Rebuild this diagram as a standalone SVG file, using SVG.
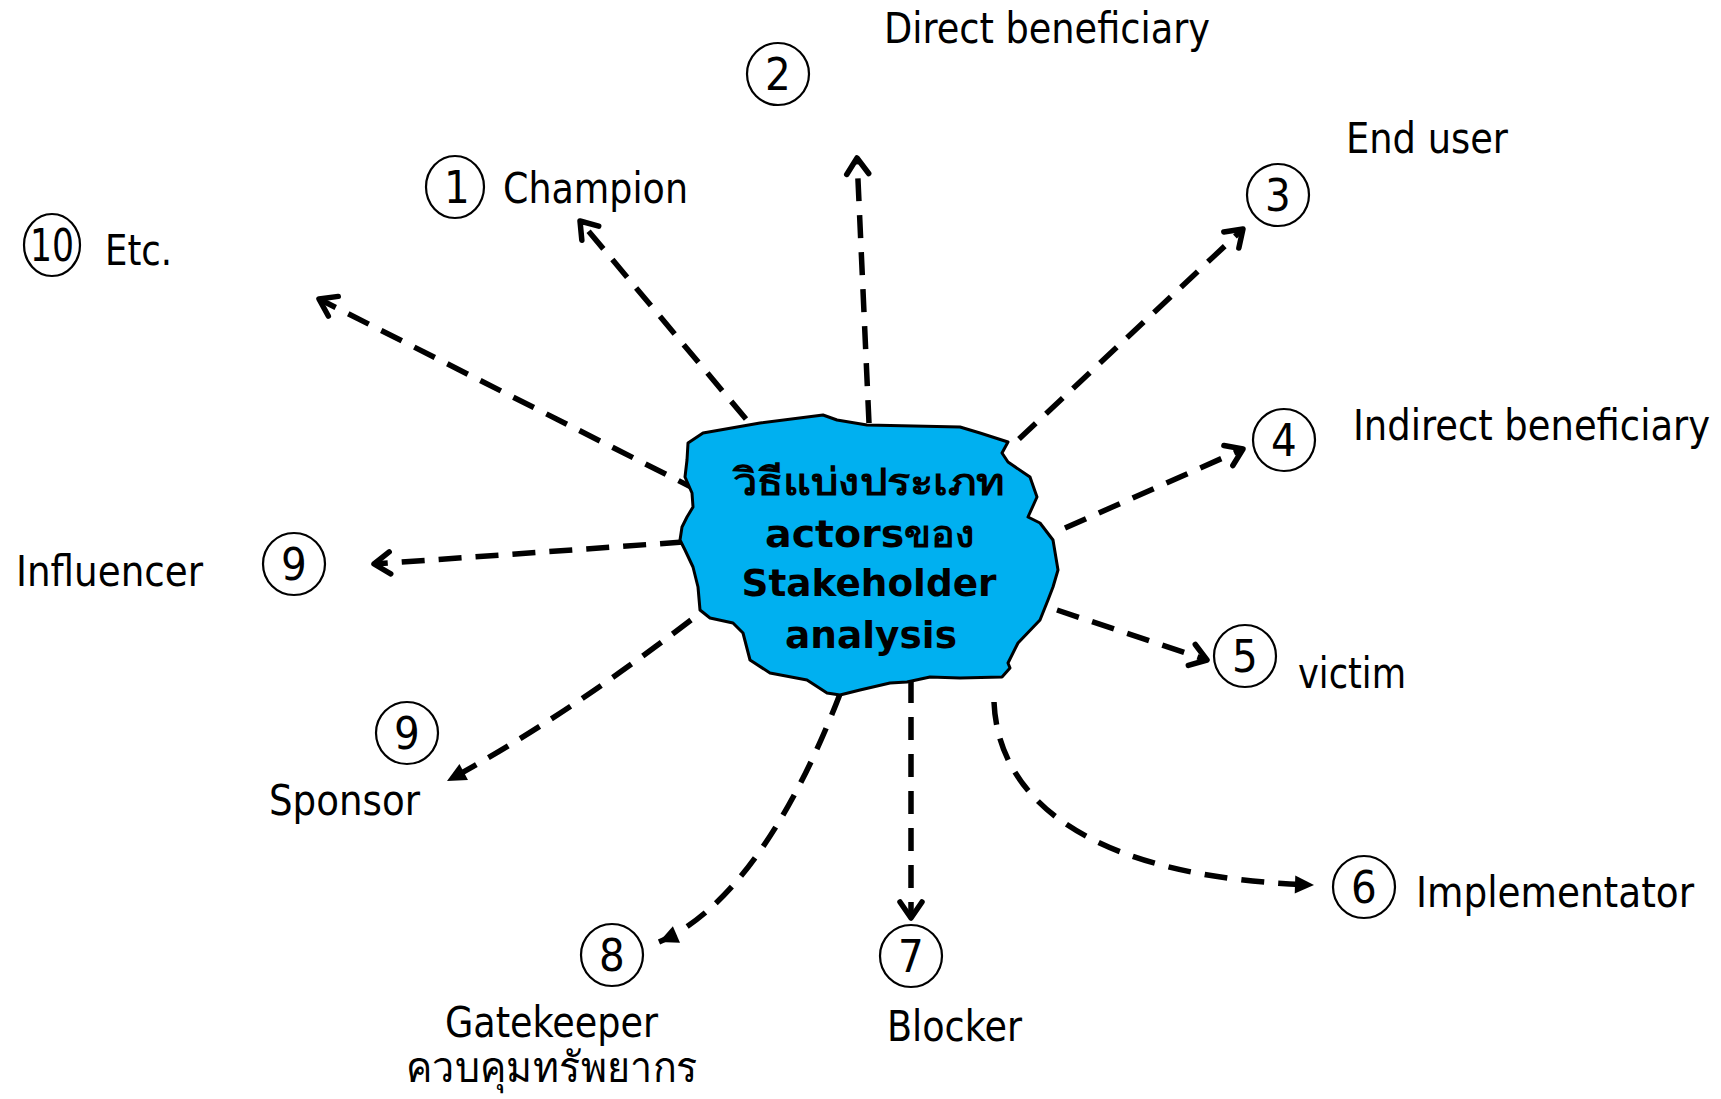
<svg xmlns="http://www.w3.org/2000/svg" width="1721" height="1099" viewBox="0 0 1721 1099">
<style>
.lbl{font-family:"DejaVu Sans","Liberation Sans",sans-serif;font-size:42px;font-stretch:condensed;fill:#000}
.num{font-family:"DejaVu Sans","Liberation Sans",sans-serif;font-size:45px;font-stretch:condensed;fill:#000;text-anchor:middle}
.ctr{font-family:"DejaVu Sans","Liberation Sans",sans-serif;font-size:38px;font-weight:bold;fill:#000;text-anchor:middle}
.circ{fill:none;stroke:#000;stroke-width:2.2}
.con{fill:none;stroke:#000;stroke-width:5.5;stroke-dasharray:23 14}
</style>
<defs>
<marker id="open" markerUnits="userSpaceOnUse" viewBox="-22 -15 30 30" markerWidth="30" markerHeight="30" refX="0" refY="0" orient="auto" overflow="visible">
<path d="M-16,-11 L0,0 L-16,11" fill="none" stroke="#000" stroke-width="5.5" stroke-linecap="round" stroke-linejoin="round"/>
</marker>
<marker id="fill" markerUnits="userSpaceOnUse" viewBox="-22 -15 30 30" markerWidth="30" markerHeight="30" refX="0" refY="0" orient="auto" overflow="visible">
<path d="M-19,-9 L0,0 L-19,9 Z" fill="#000" stroke="none"/>
</marker>
</defs>

<g id="connectors">
<path class="con" d="M746,419 L580,221" marker-end="url(#open)"/>
<path class="con" d="M869,423 L857,158" marker-end="url(#open)"/>
<path class="con" d="M1019,439 L1243,229" marker-end="url(#open)"/>
<path class="con" d="M1065,528 L1243,449" marker-end="url(#open)"/>
<path class="con" d="M1057,610 L1207,660" marker-end="url(#open)"/>
<path class="con" d="M994,702 C998,800 1090,878 1314,885" marker-end="url(#fill)"/>
<path class="con" d="M911,680 L911,918" marker-end="url(#open)"/>
<path class="con" d="M840,694 C805,785 745,905 659,942" marker-end="url(#fill)"/>
<path class="con" d="M691,620 Q560,720 447,781" marker-end="url(#fill)"/>
<path class="con" d="M683,542 L374,564" marker-end="url(#open)"/>
<path class="con" d="M699,491 L319,299" marker-end="url(#open)"/>
</g>

<g id="center">
<path d="M688,443 L703,433 L760,423 L823,415 L837,420 L867,425 L960,427 L980,433 L1008,442 L1002,453 L1008,462 L1030,477 L1037,497 L1028,517 L1040,523 L1053,540 L1058,570 L1053,587 L1048,600 L1040,620 L1018,643 L1008,663 L1010,668 L1002,677 L960,678 L930,677 L907,682 L890,683 L860,690 L840,695 L827,693 L807,680 L770,673 L750,660 L743,633 L733,623 L710,618 L700,610 L698,587 L693,567 L685,550 L680,540 L682,527 L687,517 L693,507 L692,493 L685,477 L687,460 Z" fill="#00B0F0" stroke="#000" stroke-width="3" stroke-linejoin="round"/>
<text class="ctr" x="869" y="495" font-size="42" textLength="272" lengthAdjust="spacingAndGlyphs">วิธีแบ่งประเภท</text>
<text class="ctr" x="870" y="547" textLength="210" lengthAdjust="spacingAndGlyphs">actorsของ</text>
<text class="ctr" x="869" y="596" textLength="255" lengthAdjust="spacingAndGlyphs">Stakeholder</text>
<text class="ctr" x="871" y="648" textLength="172" lengthAdjust="spacingAndGlyphs">analysis</text>
</g>

<g id="n1">
<ellipse class="circ" cx="455" cy="187" rx="29" ry="31"/>
<text class="num" x="457" y="203">1</text>
<text class="lbl" x="503" y="203" textLength="185" lengthAdjust="spacingAndGlyphs">Champion</text>
</g>
<g id="n2">
<ellipse class="circ" cx="778" cy="74" rx="31" ry="31"/>
<text class="num" x="778" y="90">2</text>
<text class="lbl" x="884" y="43" textLength="326" lengthAdjust="spacingAndGlyphs">Direct beneficiary</text>
</g>
<g id="n3">
<ellipse class="circ" cx="1278" cy="195" rx="31" ry="31"/>
<text class="num" x="1278" y="211">3</text>
<text class="lbl" x="1346" y="153" textLength="162" lengthAdjust="spacingAndGlyphs">End user</text>
</g>
<g id="n4">
<ellipse class="circ" cx="1284" cy="440" rx="31" ry="31"/>
<text class="num" x="1284" y="456">4</text>
<text class="lbl" x="1353" y="440" textLength="357" lengthAdjust="spacingAndGlyphs">Indirect beneficiary</text>
</g>
<g id="n5">
<ellipse class="circ" cx="1245" cy="656" rx="31" ry="31"/>
<text class="num" x="1245" y="672">5</text>
<text class="lbl" x="1298" y="688" textLength="108" lengthAdjust="spacingAndGlyphs">victim</text>
</g>
<g id="n6">
<ellipse class="circ" cx="1364" cy="887" rx="31" ry="31"/>
<text class="num" x="1364" y="903">6</text>
<text class="lbl" x="1416" y="907" textLength="278" lengthAdjust="spacingAndGlyphs">Implementator</text>
</g>
<g id="n7">
<ellipse class="circ" cx="911" cy="956" rx="31" ry="31"/>
<text class="num" x="911" y="972">7</text>
<text class="lbl" x="887" y="1041" textLength="135" lengthAdjust="spacingAndGlyphs">Blocker</text>
</g>
<g id="n8">
<ellipse class="circ" cx="612" cy="955" rx="31" ry="31"/>
<text class="num" x="612" y="971">8</text>
<text class="lbl" x="445" y="1037" textLength="213" lengthAdjust="spacingAndGlyphs">Gatekeeper</text>
<text class="lbl" x="406" y="1082" textLength="292" lengthAdjust="spacingAndGlyphs">ควบคุมทรัพยากร</text>
</g>
<g id="n9a">
<ellipse class="circ" cx="294" cy="564" rx="31" ry="31"/>
<text class="num" x="294" y="580">9</text>
<text class="lbl" x="16" y="586" textLength="187" lengthAdjust="spacingAndGlyphs">Influencer</text>
</g>
<g id="n9b">
<ellipse class="circ" cx="407" cy="733" rx="31" ry="31"/>
<text class="num" x="407" y="749">9</text>
<text class="lbl" x="269" y="815" textLength="151" lengthAdjust="spacingAndGlyphs">Sponsor</text>
</g>
<g id="n10">
<ellipse class="circ" cx="52" cy="245" rx="28" ry="31"/>
<text class="num" x="52" y="261" textLength="44" lengthAdjust="spacingAndGlyphs">10</text>
<text class="lbl" x="105" y="265" textLength="67" lengthAdjust="spacingAndGlyphs">Etc.</text>
</g>
</svg>
